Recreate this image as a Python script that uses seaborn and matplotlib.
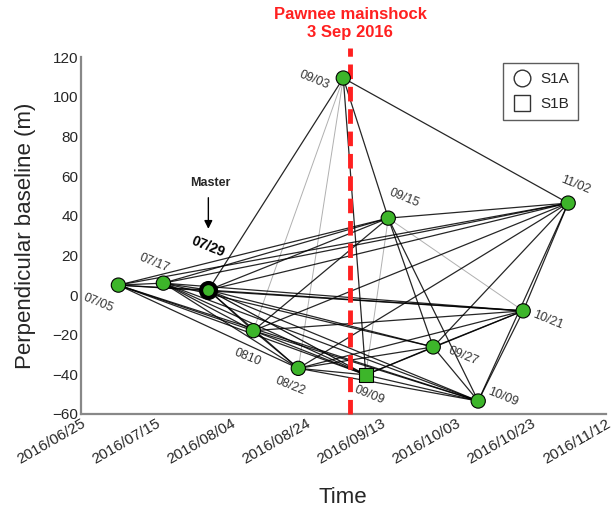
import pandas as pd
import seaborn as sns
import matplotlib
matplotlib.use('Agg')  # non-GUI backend
import matplotlib.pyplot as plt
import matplotlib.dates as mdates
from matplotlib.lines import Line2D

# acquisition dates, baselines, satellite
dates = ["2016-07-05", "2016-07-17", "2016-07-29", "2016-08-10", "2016-08-22", "2016-09-03",
         "2016-09-09", "2016-09-15", "2016-09-27", "2016-10-09", "2016-10-21", "2016-11-02"]
baselines = [5, 6, 2.5, -18, -37, 109.5, -40.3, 38.8, -26.2, -53.5, -8, 46.4]
satellite = ["S1A", "S1A", "S1A", "S1A", "S1A", "S1A", "S1B", "S1A", "S1A", "S1A", "S1A", "S1A"]
labels = ["07/05", "07/17", "07/29", "0810", "08/22", "09/03",
          "09/09", "09/15", "09/27", "10/09", "10/21", "11/02"]
master_idx = 2

# interferogram pairs (indices into dates)
pairs_black = [(0, 1), (0, 2), (0, 3), (0, 4), (0, 6), (0, 7), (0, 11), (0, 10), (0, 9),
               (1, 2), (1, 3), (1, 4), (1, 6), (1, 7), (1, 8), (1, 9), (1, 10), (1, 11),
               (2, 3), (2, 4), (2, 5), (2, 6), (2, 7), (2, 8), (2, 9), (2, 10), (2, 11),
               (3, 4), (3, 6), (3, 7), (3, 9), (3, 10), (3, 11),
               (4, 6), (4, 8), (4, 9), (4, 10), (4, 11),
               (5, 6), (5, 7), (5, 11),
               (6, 8), (6, 9), (6, 10),
               (7, 8), (7, 9), (7, 11),
               (8, 9), (8, 10), (8, 11),
               (9, 10), (9, 11), (10, 11)]
pairs_gray = [(3, 5), (4, 5), (7, 10), (6, 7), (2, 6)]

xtick_dates = ["2016-06-25", "2016-07-15", "2016-08-04", "2016-08-24",
               "2016-09-13", "2016-10-03", "2016-10-23", "2016-11-12"]
yticks = [-60, -40, -20, 0, 20, 40, 60, 80, 100, 120]
mainshock_date = "2016-09-04 20:00"

nodes = pd.DataFrame({"date": pd.to_datetime(dates), "bperp": baselines,
                      "sat": satellite, "label": labels})


def edge_frame(pairs):
    rows = []
    for k, (i, j) in enumerate(pairs):
        for n in (i, j):
            rows.append({"edge": k, "date": nodes.date[n], "bperp": nodes.bperp[n]})
    return pd.DataFrame(rows)


sns.set_style("white")
plt.rcParams['font.family'] = ['Liberation Sans', 'DejaVu Sans']

fig = plt.figure(figsize=(6.13, 5.11), dpi=100)
ax = fig.add_axes([0.132, 0.19, 0.856, 0.698])

sns.lineplot(data=edge_frame(pairs_gray), x="date", y="bperp", units="edge", estimator=None,
             color="#b0b0b0", lw=0.7, ax=ax, zorder=1)
sns.lineplot(data=edge_frame(pairs_black), x="date", y="bperp", units="edge", estimator=None,
             color="black", lw=0.9, alpha=0.85, ax=ax, zorder=2)

ax.axvline(pd.Timestamp(mainshock_date), ymin=0, ymax=1.025, color="#ff2020", lw=3.5,
           ls=(0, (3, 1.6)), zorder=3, clip_on=False)

others = nodes.drop(index=master_idx)
sns.scatterplot(data=others, x="date", y="bperp", style="sat", markers={"S1A": "o", "S1B": "s"},
                s=105, color="#3db52a", edgecolor="black", linewidth=0.8, ax=ax, zorder=5,
                legend=False)
m = nodes.loc[[master_idx]]
sns.scatterplot(data=m, x="date", y="bperp", s=115, color="#3db52a", edgecolor="black",
                linewidth=3, ax=ax, zorder=6, legend=False)

# date labels
offsets = [(-20, -18), (-9, 20), (0, 43), (-6, -27), (-8, -18), (-29, -2),
           (3, -20), (16, 20), (30, -9), (25, 4), (25, -9), (7, 18)]
for i, row in nodes.iterrows():
    bold = i == master_idx
    ax.annotate(row.label, (mdates.date2num(row.date), row.bperp), xytext=offsets[i],
                textcoords="offset pixels", ha="center", va="center", rotation=-22,
                fontsize=10 if bold else 9, fontweight="bold" if bold else "normal",
                color="black" if bold else "#333333", zorder=7)

md = mdates.date2num(nodes.date[master_idx])
ax.annotate("", xy=(md, nodes.bperp[master_idx] + 29.5), xytext=(md, nodes.bperp[master_idx] + 48),
            arrowprops=dict(arrowstyle="-|>", color="black", lw=1, mutation_scale=12))
ax.text(md + 0.5, nodes.bperp[master_idx] + 54, "Master", ha="center", va="center",
        fontsize=9, fontweight="bold")

ax.set_xlim(pd.Timestamp(xtick_dates[0]), pd.Timestamp(xtick_dates[-1]))
ax.set_ylim(-60, 120)
ax.set_xticks(pd.to_datetime(xtick_dates))
ax.xaxis.set_major_formatter(mdates.DateFormatter("%Y/%m/%d"))
ax.set_yticks(yticks)
plt.setp(ax.get_xticklabels(), rotation=30, ha="right", rotation_mode="anchor", fontsize=11)
plt.setp(ax.get_yticklabels(), fontsize=11)
ax.tick_params(direction="in", length=4, width=1, color="#888888", pad=2)

sns.despine(ax=ax)
for s in ("left", "bottom"):
    ax.spines[s].set_color("#888888")
    ax.spines[s].set_linewidth(1.6)

ax.set_xlabel("Time", fontsize=16, labelpad=14)
ax.set_ylabel("Perpendicular baseline (m)", fontsize=16, labelpad=12)

handles = [Line2D([], [], marker="o", ls="", mfc="white", mec="#333333", ms=12, mew=1),
           Line2D([], [], marker="s", ls="", mfc="white", mec="#333333", ms=11, mew=1)]
leg = ax.legend(handles, ["S1A", "S1B"], loc="upper right", bbox_to_anchor=(0.947, 0.983),
                fontsize=11, frameon=True, fancybox=False, handletextpad=0.5,
                borderpad=0.6, labelspacing=0.7, handlelength=1.3, borderaxespad=0)
leg.get_frame().set_edgecolor("#333333")
leg.get_frame().set_linewidth(1)

fig.text(0.571, 0.972, "Pawnee mainshock", color="#ff2020", fontsize=12, fontweight="bold",
         ha="center", va="center")
fig.text(0.571, 0.936, "3 Sep 2016", color="#ff2020", fontsize=12, fontweight="bold",
         ha="center", va="center")

fig.savefig("out.png", dpi=100)
